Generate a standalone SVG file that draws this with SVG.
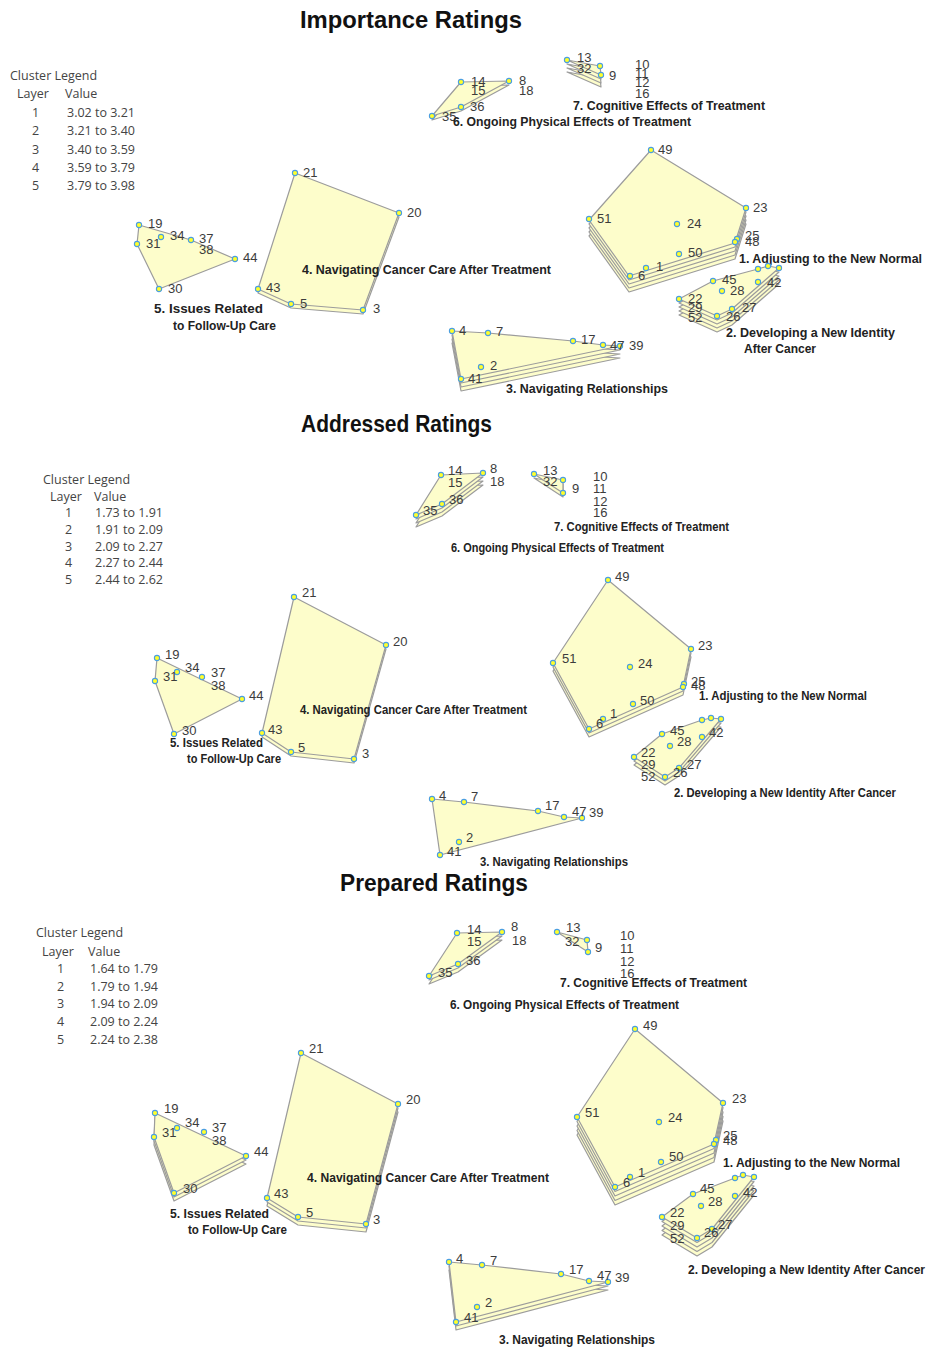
<svg xmlns="http://www.w3.org/2000/svg" width="930" height="1349" viewBox="0 0 930 1349">
<style>
  .bg{fill:#ffffff}
  .ttl{font-family:"Liberation Sans",Arial,sans-serif;font-weight:bold;font-size:24px;fill:#111}
  .lg{font-family:"Open Sans","Liberation Sans",sans-serif;font-size:12.5px;fill:#444}
  .num{font-family:"Liberation Sans",Arial,sans-serif;font-size:13px;fill:#3c3c3c}
  .cl{font-family:"Liberation Sans",Arial,sans-serif;font-weight:bold;font-size:12px;fill:#222}
  .ly{fill:#fdfdcb;stroke:#9c9c9c;stroke-width:1.2;stroke-linejoin:round}
  .pt{fill:#ffff2a;stroke:#4a9ee0;stroke-width:1.1}
</style>
<defs>
  <polygon id="p1c1" points="651,150 746,208 735,243 629,276 589,220"/>
  <polygon id="p1c2" points="679,299 713,281 758,269 768,266 779,268 732,309 717,316"/>
  <polygon id="p1c3" points="452,331 488,333 573,341 603,345 620,346 461,379"/>
  <polygon id="p1c4" points="295,173 399,213 363,310 291,304 258,289"/>
  <polygon id="p1c5" points="139,225 191,240 235,259 159,289 137,244"/>
  <polygon id="p1c6" points="432,116 461,82 509,81 461,107"/>
  <polygon id="p1c7" points="567,60 600,66 601,75"/>

  <polygon id="p2c1" points="608,580 691,649 683,687 589,729 553,663"/>
  <polygon id="p2c2" points="634,757 662,734 702,720 711,718 721,719 679,768 665,777"/>
  <polygon id="p2c3" points="432,799 464,802 538,811 564,817 582,818 440,855"/>
  <polygon id="p2c4" points="294,597 386,645 354,759 291,752 262,733"/>
  <polygon id="p2c5" points="157,658 242,699 174,734 155,681"/>
  <polygon id="p2c6" points="416,515 441,475 483,473 442,504"/>
  <polygon id="p2c7" points="534,474 563,480 563,493"/>

  <polygon id="p3c1" points="635,1029 723,1103 714,1144 615,1187 577,1117"/>
  <polygon id="p3c2" points="662,1217 693,1194 735,1178 743,1175 754,1177 712,1229 697,1238"/>
  <polygon id="p3c3" points="449,1262 482,1265 561,1274 589,1281 608,1282 456,1322"/>
  <polygon id="p3c4" points="301,1053 398,1104 366,1224 298,1217 267,1198"/>
  <polygon id="p3c5" points="155,1113 246,1156 174,1193 154,1137"/>
  <polygon id="p3c6" points="429,976 457,933 502,932 458,964"/>
  <polygon id="p3c7" points="557,932 587,940 588,952"/>
</defs>
<rect class="bg" x="0" y="0" width="930" height="1349"/>

<!-- ================= PANEL 1: IMPORTANCE ================= -->
<g id="panel-importance">
  <text class="ttl" x="300" y="28" textLength="222" lengthAdjust="spacingAndGlyphs">Importance Ratings</text>
  <g id="legend-importance" class="lg">
    <text x="10" y="80">Cluster Legend</text>
    <text x="17" y="98">Layer</text><text x="65" y="98">Value</text>
    <text x="32" y="117">1</text><text x="67" y="117">3.02 to 3.21</text>
    <text x="32" y="135">2</text><text x="67" y="135">3.21 to 3.40</text>
    <text x="32" y="154">3</text><text x="67" y="154">3.40 to 3.59</text>
    <text x="32" y="172">4</text><text x="67" y="172">3.59 to 3.79</text>
    <text x="32" y="190">5</text><text x="67" y="190">3.79 to 3.98</text>
  </g>

  <g id="p1-cluster5">
    <use class="ly" href="#p1c5"/>
    <circle class="pt" cx="139" cy="225" r="2.6"/><circle class="pt" cx="137" cy="244" r="2.6"/>
    <circle class="pt" cx="161" cy="237" r="2.6"/><circle class="pt" cx="191" cy="240" r="2.6"/>
    <circle class="pt" cx="235" cy="259" r="2.6"/><circle class="pt" cx="159" cy="289" r="2.6"/>
    <g class="num">
      <text x="148" y="228">19</text><text x="146" y="248">31</text><text x="170" y="240">34</text>
      <text x="199" y="243">37</text><text x="199" y="254">38</text><text x="243" y="262">44</text>
      <text x="168" y="293">30</text>
    </g>
    <text class="cl" x="154" y="313" textLength="109" lengthAdjust="spacingAndGlyphs">5.  Issues Related</text>
    <text class="cl" x="173" y="330" textLength="103" lengthAdjust="spacingAndGlyphs">to Follow-Up Care</text>
  </g>

  <g id="p1-cluster4">
    <use class="ly" href="#p1c4" y="4"/>
    <use class="ly" href="#p1c4"/>
    <circle class="pt" cx="295" cy="173" r="2.6"/><circle class="pt" cx="399" cy="213" r="2.6"/>
    <circle class="pt" cx="363" cy="310" r="2.6"/><circle class="pt" cx="291" cy="304" r="2.6"/>
    <circle class="pt" cx="258" cy="289" r="2.6"/>
    <g class="num">
      <text x="303" y="177">21</text><text x="407" y="217">20</text><text x="373" y="313">3</text>
      <text x="300" y="308">5</text><text x="266" y="292">43</text>
    </g>
    <text class="cl" x="302" y="274" textLength="249" lengthAdjust="spacingAndGlyphs">4.  Navigating Cancer Care After Treatment</text>
  </g>

  <g id="p1-cluster6">
    <use class="ly" href="#p1c6" y="4"/>
    <use class="ly" href="#p1c6"/>
    <circle class="pt" cx="461" cy="82" r="2.6"/><circle class="pt" cx="509" cy="81" r="2.6"/>
    <circle class="pt" cx="461" cy="107" r="2.6"/><circle class="pt" cx="432" cy="116" r="2.6"/>
    <g class="num">
      <text x="471" y="86">14</text><text x="471" y="95">15</text><text x="519" y="85">8</text>
      <text x="519" y="95">18</text><text x="470" y="111">36</text><text x="442" y="121">35</text>
    </g>
    <text class="cl" x="453" y="126" textLength="238" lengthAdjust="spacingAndGlyphs">6.  Ongoing Physical Effects of Treatment</text>
  </g>

  <g id="p1-cluster7">
    <use class="ly" href="#p1c7" y="12"/>
    <use class="ly" href="#p1c7" y="8"/>
    <use class="ly" href="#p1c7" y="4"/>
    <use class="ly" href="#p1c7"/>
    <circle class="pt" cx="567" cy="60" r="2.6"/><circle class="pt" cx="600" cy="66" r="2.6"/>
    <circle class="pt" cx="601" cy="75" r="2.6"/>
    <g class="num">
      <text x="577" y="62">13</text><text x="577" y="73">32</text><text x="609" y="80">9</text>
      <text x="635" y="69">10</text><text x="635" y="78">11</text><text x="635" y="87">12</text><text x="635" y="98">16</text>
    </g>
    <text class="cl" x="573" y="110" textLength="192" lengthAdjust="spacingAndGlyphs">7.  Cognitive Effects of Treatment</text>
  </g>

  <g id="p1-cluster1">
    <use class="ly" href="#p1c1" y="16"/>
    <use class="ly" href="#p1c1" y="12"/>
    <use class="ly" href="#p1c1" y="8"/>
    <use class="ly" href="#p1c1" y="4"/>
    <use class="ly" href="#p1c1"/>
    <circle class="pt" cx="651" cy="150" r="2.6"/><circle class="pt" cx="746" cy="208" r="2.6"/>
    <circle class="pt" cx="737" cy="239" r="2.6"/><circle class="pt" cx="735" cy="242" r="2.6"/>
    <circle class="pt" cx="679" cy="254" r="2.6"/><circle class="pt" cx="646" cy="268" r="2.6"/>
    <circle class="pt" cx="630" cy="276" r="2.6"/><circle class="pt" cx="589" cy="219" r="2.6"/>
    <circle class="pt" cx="677" cy="224" r="2.6"/>
    <g class="num">
      <text x="658" y="154">49</text><text x="753" y="212">23</text><text x="745" y="240">25</text>
      <text x="745" y="246">48</text><text x="688" y="257">50</text><text x="656" y="271">1</text>
      <text x="638" y="280">6</text><text x="597" y="223">51</text><text x="687" y="228">24</text>
    </g>
    <text class="cl" x="739" y="263" textLength="183" lengthAdjust="spacingAndGlyphs">1.  Adjusting to the New Normal</text>
  </g>

  <g id="p1-cluster2">
    <use class="ly" href="#p1c2" y="16"/>
    <use class="ly" href="#p1c2" y="12"/>
    <use class="ly" href="#p1c2" y="8"/>
    <use class="ly" href="#p1c2" y="4"/>
    <use class="ly" href="#p1c2"/>
    <circle class="pt" cx="713" cy="281" r="2.6"/><circle class="pt" cx="722" cy="291" r="2.6"/>
    <circle class="pt" cx="679" cy="299" r="2.6"/><circle class="pt" cx="717" cy="316" r="2.6"/>
    <circle class="pt" cx="732" cy="309" r="2.6"/><circle class="pt" cx="758" cy="282" r="2.6"/>
    <circle class="pt" cx="758" cy="269" r="2.6"/><circle class="pt" cx="768" cy="266" r="2.6"/>
    <circle class="pt" cx="779" cy="268" r="2.6"/>
    <g class="num">
      <text x="722" y="284">45</text><text x="730" y="295">28</text><text x="767" y="287">42</text>
      <text x="688" y="303">22</text><text x="688" y="312">29</text><text x="688" y="322">52</text>
      <text x="742" y="312">27</text><text x="726" y="321">26</text>
    </g>
    <text class="cl" x="726" y="337" textLength="169" lengthAdjust="spacingAndGlyphs">2.  Developing a New Identity</text>
    <text class="cl" x="744" y="353" textLength="72" lengthAdjust="spacingAndGlyphs">After Cancer</text>
  </g>

  <g id="p1-cluster3">
    <use class="ly" href="#p1c3" y="12"/>
    <use class="ly" href="#p1c3" y="8"/>
    <use class="ly" href="#p1c3" y="4"/>
    <use class="ly" href="#p1c3"/>
    <circle class="pt" cx="452" cy="331" r="2.6"/><circle class="pt" cx="488" cy="333" r="2.6"/>
    <circle class="pt" cx="573" cy="341" r="2.6"/><circle class="pt" cx="603" cy="345" r="2.6"/>
    <circle class="pt" cx="620" cy="346" r="2.6"/><circle class="pt" cx="481" cy="367" r="2.6"/>
    <circle class="pt" cx="461" cy="379" r="2.6"/>
    <g class="num">
      <text x="459" y="335">4</text><text x="496" y="336">7</text><text x="581" y="344">17</text>
      <text x="610" y="350">47</text><text x="629" y="350">39</text><text x="490" y="370">2</text>
      <text x="468" y="383">41</text>
    </g>
    <text class="cl" x="506" y="393" textLength="162" lengthAdjust="spacingAndGlyphs">3.  Navigating Relationships</text>
  </g>
</g>

<!-- ================= PANEL 2: ADDRESSED ================= -->
<g id="panel-addressed">
  <text class="ttl" x="301" y="432" textLength="191" lengthAdjust="spacingAndGlyphs">Addressed Ratings</text>
  <g id="legend-addressed" class="lg">
    <text x="43" y="484">Cluster Legend</text>
    <text x="50" y="501">Layer</text><text x="94" y="501">Value</text>
    <text x="65" y="517">1</text><text x="95" y="517">1.73 to 1.91</text>
    <text x="65" y="534">2</text><text x="95" y="534">1.91 to 2.09</text>
    <text x="65" y="551">3</text><text x="95" y="551">2.09 to 2.27</text>
    <text x="65" y="567">4</text><text x="95" y="567">2.27 to 2.44</text>
    <text x="65" y="584">5</text><text x="95" y="584">2.44 to 2.62</text>
  </g>

  <g id="p2-cluster5">
    <use class="ly" href="#p2c5"/>
    <circle class="pt" cx="157" cy="658" r="2.6"/><circle class="pt" cx="155" cy="681" r="2.6"/>
    <circle class="pt" cx="177" cy="672" r="2.6"/><circle class="pt" cx="202" cy="677" r="2.6"/>
    <circle class="pt" cx="242" cy="699" r="2.6"/><circle class="pt" cx="174" cy="734" r="2.6"/>
    <g class="num">
      <text x="165" y="659">19</text><text x="163" y="681">31</text><text x="185" y="672">34</text>
      <text x="211" y="677">37</text><text x="211" y="690">38</text><text x="249" y="700">44</text>
      <text x="182" y="735">30</text>
    </g>
    <text class="cl" x="170" y="747" textLength="93" lengthAdjust="spacingAndGlyphs">5.  Issues Related</text>
    <text class="cl" x="187" y="763" textLength="94" lengthAdjust="spacingAndGlyphs">to Follow-Up Care</text>
  </g>

  <g id="p2-cluster4">
    <use class="ly" href="#p2c4" y="4"/>
    <use class="ly" href="#p2c4"/>
    <circle class="pt" cx="294" cy="597" r="2.6"/><circle class="pt" cx="386" cy="645" r="2.6"/>
    <circle class="pt" cx="354" cy="759" r="2.6"/><circle class="pt" cx="291" cy="752" r="2.6"/>
    <circle class="pt" cx="262" cy="733" r="2.6"/>
    <g class="num">
      <text x="302" y="597">21</text><text x="393" y="646">20</text><text x="362" y="758">3</text>
      <text x="298" y="752">5</text><text x="268" y="734">43</text>
    </g>
    <text class="cl" x="300" y="714" textLength="227" lengthAdjust="spacingAndGlyphs">4.  Navigating Cancer Care After Treatment</text>
  </g>

  <g id="p2-cluster6">
    <use class="ly" href="#p2c6" y="12"/>
    <use class="ly" href="#p2c6" y="8"/>
    <use class="ly" href="#p2c6" y="4"/>
    <use class="ly" href="#p2c6"/>
    <circle class="pt" cx="441" cy="475" r="2.6"/><circle class="pt" cx="483" cy="473" r="2.6"/>
    <circle class="pt" cx="442" cy="504" r="2.6"/><circle class="pt" cx="416" cy="515" r="2.6"/>
    <g class="num">
      <text x="448" y="475">14</text><text x="448" y="487">15</text><text x="490" y="473">8</text>
      <text x="490" y="486">18</text><text x="449" y="504">36</text><text x="423" y="515">35</text>
    </g>
    <text class="cl" x="451" y="552" textLength="213" lengthAdjust="spacingAndGlyphs">6.  Ongoing Physical Effects of Treatment</text>
  </g>

  <g id="p2-cluster7">
    <use class="ly" href="#p2c7" y="4"/>
    <use class="ly" href="#p2c7"/>
    <circle class="pt" cx="534" cy="474" r="2.6"/><circle class="pt" cx="563" cy="480" r="2.6"/>
    <circle class="pt" cx="563" cy="493" r="2.6"/>
    <g class="num">
      <text x="543" y="475">13</text><text x="543" y="486">32</text><text x="572" y="493">9</text>
      <text x="593" y="481">10</text><text x="593" y="493">11</text><text x="593" y="506">12</text><text x="593" y="517">16</text>
    </g>
    <text class="cl" x="554" y="531" textLength="175" lengthAdjust="spacingAndGlyphs">7.  Cognitive Effects of Treatment</text>
  </g>

  <g id="p2-cluster1">
    <use class="ly" href="#p2c1" y="8"/>
    <use class="ly" href="#p2c1" y="4"/>
    <use class="ly" href="#p2c1"/>
    <circle class="pt" cx="608" cy="580" r="2.6"/><circle class="pt" cx="691" cy="649" r="2.6"/>
    <circle class="pt" cx="684" cy="684" r="2.6"/><circle class="pt" cx="683" cy="687" r="2.6"/>
    <circle class="pt" cx="633" cy="704" r="2.6"/><circle class="pt" cx="603" cy="719" r="2.6"/>
    <circle class="pt" cx="589" cy="729" r="2.6"/><circle class="pt" cx="553" cy="663" r="2.6"/>
    <circle class="pt" cx="630" cy="667" r="2.6"/>
    <g class="num">
      <text x="615" y="581">49</text><text x="698" y="650">23</text><text x="691" y="686">25</text>
      <text x="691" y="690">48</text><text x="640" y="705">50</text><text x="610" y="718">1</text>
      <text x="596" y="728">6</text><text x="562" y="663">51</text><text x="638" y="668">24</text>
    </g>
    <text class="cl" x="699" y="700" textLength="168" lengthAdjust="spacingAndGlyphs">1.  Adjusting to the New Normal</text>
  </g>

  <g id="p2-cluster2">
    <use class="ly" href="#p2c2" y="8"/>
    <use class="ly" href="#p2c2" y="4"/>
    <use class="ly" href="#p2c2"/>
    <circle class="pt" cx="662" cy="734" r="2.6"/><circle class="pt" cx="670" cy="746" r="2.6"/>
    <circle class="pt" cx="634" cy="757" r="2.6"/><circle class="pt" cx="665" cy="777" r="2.6"/>
    <circle class="pt" cx="679" cy="768" r="2.6"/><circle class="pt" cx="702" cy="737" r="2.6"/>
    <circle class="pt" cx="702" cy="720" r="2.6"/><circle class="pt" cx="711" cy="718" r="2.6"/>
    <circle class="pt" cx="721" cy="719" r="2.6"/>
    <g class="num">
      <text x="670" y="735">45</text><text x="677" y="746">28</text><text x="709" y="737">42</text>
      <text x="641" y="757">22</text><text x="641" y="769">29</text><text x="641" y="781">52</text>
      <text x="687" y="769">27</text><text x="673" y="777">26</text>
    </g>
    <text class="cl" x="674" y="797" textLength="222" lengthAdjust="spacingAndGlyphs">2.  Developing a New Identity After Cancer</text>
  </g>

  <g id="p2-cluster3">
    <use class="ly" href="#p2c3"/>
    <circle class="pt" cx="432" cy="799" r="2.6"/><circle class="pt" cx="464" cy="802" r="2.6"/>
    <circle class="pt" cx="538" cy="811" r="2.6"/><circle class="pt" cx="564" cy="817" r="2.6"/>
    <circle class="pt" cx="582" cy="818" r="2.6"/><circle class="pt" cx="459" cy="842" r="2.6"/>
    <circle class="pt" cx="440" cy="855" r="2.6"/>
    <g class="num">
      <text x="439" y="800">4</text><text x="471" y="801">7</text><text x="545" y="810">17</text>
      <text x="572" y="816">47</text><text x="589" y="817">39</text><text x="466" y="842">2</text>
      <text x="447" y="856">41</text>
    </g>
    <text class="cl" x="480" y="866" textLength="148" lengthAdjust="spacingAndGlyphs">3.  Navigating Relationships</text>
  </g>
</g>

<!-- ================= PANEL 3: PREPARED ================= -->
<g id="panel-prepared">
  <text class="ttl" x="340" y="891" textLength="188" lengthAdjust="spacingAndGlyphs">Prepared Ratings</text>
  <g id="legend-prepared" class="lg">
    <text x="36" y="937">Cluster Legend</text>
    <text x="42" y="956">Layer</text><text x="88" y="956">Value</text>
    <text x="57" y="973">1</text><text x="90" y="973">1.64 to 1.79</text>
    <text x="57" y="991">2</text><text x="90" y="991">1.79 to 1.94</text>
    <text x="57" y="1008">3</text><text x="90" y="1008">1.94 to 2.09</text>
    <text x="57" y="1026">4</text><text x="90" y="1026">2.09 to 2.24</text>
    <text x="57" y="1044">5</text><text x="90" y="1044">2.24 to 2.38</text>
  </g>

  <g id="p3-cluster5">
    <use class="ly" href="#p3c5" y="8"/>
    <use class="ly" href="#p3c5" y="4"/>
    <use class="ly" href="#p3c5"/>
    <circle class="pt" cx="155" cy="1113" r="2.6"/><circle class="pt" cx="154" cy="1137" r="2.6"/>
    <circle class="pt" cx="177" cy="1128" r="2.6"/><circle class="pt" cx="204" cy="1132" r="2.6"/>
    <circle class="pt" cx="246" cy="1156" r="2.6"/><circle class="pt" cx="174" cy="1193" r="2.6"/>
    <g class="num">
      <text x="164" y="1113">19</text><text x="162" y="1137">31</text><text x="185" y="1127">34</text>
      <text x="212" y="1132">37</text><text x="212" y="1145">38</text><text x="254" y="1156">44</text>
      <text x="183" y="1193">30</text>
    </g>
    <text class="cl" x="170" y="1218" textLength="99" lengthAdjust="spacingAndGlyphs">5.  Issues Related</text>
    <text class="cl" x="188" y="1234" textLength="99" lengthAdjust="spacingAndGlyphs">to Follow-Up Care</text>
  </g>

  <g id="p3-cluster4">
    <use class="ly" href="#p3c4" y="8"/>
    <use class="ly" href="#p3c4" y="4"/>
    <use class="ly" href="#p3c4"/>
    <circle class="pt" cx="301" cy="1053" r="2.6"/><circle class="pt" cx="398" cy="1104" r="2.6"/>
    <circle class="pt" cx="366" cy="1224" r="2.6"/><circle class="pt" cx="298" cy="1217" r="2.6"/>
    <circle class="pt" cx="267" cy="1198" r="2.6"/>
    <g class="num">
      <text x="309" y="1053">21</text><text x="406" y="1104">20</text><text x="373" y="1224">3</text>
      <text x="306" y="1217">5</text><text x="274" y="1198">43</text>
    </g>
    <text class="cl" x="307" y="1182" textLength="242" lengthAdjust="spacingAndGlyphs">4.  Navigating Cancer Care After Treatment</text>
  </g>

  <g id="p3-cluster6">
    <use class="ly" href="#p3c6" y="8"/>
    <use class="ly" href="#p3c6" y="4"/>
    <use class="ly" href="#p3c6"/>
    <circle class="pt" cx="457" cy="933" r="2.6"/><circle class="pt" cx="502" cy="932" r="2.6"/>
    <circle class="pt" cx="458" cy="964" r="2.6"/><circle class="pt" cx="429" cy="976" r="2.6"/>
    <g class="num">
      <text x="467" y="934">14</text><text x="467" y="946">15</text><text x="511" y="931">8</text>
      <text x="512" y="945">18</text><text x="466" y="965">36</text><text x="438" y="977">35</text>
    </g>
    <text class="cl" x="450" y="1009" textLength="229" lengthAdjust="spacingAndGlyphs">6.  Ongoing Physical Effects of Treatment</text>
  </g>

  <g id="p3-cluster7">
    <use class="ly" href="#p3c7"/>
    <circle class="pt" cx="557" cy="932" r="2.6"/><circle class="pt" cx="587" cy="940" r="2.6"/>
    <circle class="pt" cx="588" cy="952" r="2.6"/>
    <g class="num">
      <text x="566" y="932">13</text><text x="565" y="946">32</text><text x="595" y="952">9</text>
      <text x="620" y="940">10</text><text x="620" y="953">11</text><text x="620" y="966">12</text><text x="620" y="978">16</text>
    </g>
    <text class="cl" x="560" y="987" textLength="187" lengthAdjust="spacingAndGlyphs">7.  Cognitive Effects of Treatment</text>
  </g>

  <g id="p3-cluster1">
    <use class="ly" href="#p3c1" y="18"/>
    <use class="ly" href="#p3c1" y="13.5"/>
    <use class="ly" href="#p3c1" y="9"/>
    <use class="ly" href="#p3c1" y="4.5"/>
    <use class="ly" href="#p3c1"/>
    <circle class="pt" cx="635" cy="1029" r="2.6"/><circle class="pt" cx="723" cy="1103" r="2.6"/>
    <circle class="pt" cx="716" cy="1140" r="2.6"/><circle class="pt" cx="714" cy="1144" r="2.6"/>
    <circle class="pt" cx="661" cy="1162" r="2.6"/><circle class="pt" cx="630" cy="1177" r="2.6"/>
    <circle class="pt" cx="615" cy="1187" r="2.6"/><circle class="pt" cx="577" cy="1117" r="2.6"/>
    <circle class="pt" cx="659" cy="1122" r="2.6"/>
    <g class="num">
      <text x="643" y="1030">49</text><text x="732" y="1103">23</text><text x="723" y="1140">25</text>
      <text x="723" y="1145">48</text><text x="669" y="1161">50</text><text x="638" y="1177">1</text>
      <text x="623" y="1187">6</text><text x="585" y="1117">51</text><text x="668" y="1122">24</text>
    </g>
    <text class="cl" x="723" y="1167" textLength="177" lengthAdjust="spacingAndGlyphs">1.  Adjusting to the New Normal</text>
  </g>

  <g id="p3-cluster2">
    <use class="ly" href="#p3c2" y="18"/>
    <use class="ly" href="#p3c2" y="13.5"/>
    <use class="ly" href="#p3c2" y="9"/>
    <use class="ly" href="#p3c2" y="4.5"/>
    <use class="ly" href="#p3c2"/>
    <circle class="pt" cx="693" cy="1194" r="2.6"/><circle class="pt" cx="701" cy="1206" r="2.6"/>
    <circle class="pt" cx="662" cy="1217" r="2.6"/><circle class="pt" cx="697" cy="1238" r="2.6"/>
    <circle class="pt" cx="712" cy="1229" r="2.6"/><circle class="pt" cx="735" cy="1196" r="2.6"/>
    <circle class="pt" cx="735" cy="1178" r="2.6"/><circle class="pt" cx="743" cy="1175" r="2.6"/>
    <circle class="pt" cx="754" cy="1177" r="2.6"/>
    <g class="num">
      <text x="700" y="1193">45</text><text x="708" y="1206">28</text><text x="743" y="1197">42</text>
      <text x="670" y="1217">22</text><text x="670" y="1230">29</text><text x="670" y="1243">52</text>
      <text x="718" y="1229">27</text><text x="704" y="1237">26</text>
    </g>
    <text class="cl" x="688" y="1274" textLength="237" lengthAdjust="spacingAndGlyphs">2.  Developing a New Identity After Cancer</text>
  </g>

  <g id="p3-cluster3">
    <use class="ly" href="#p3c3" y="8"/>
    <use class="ly" href="#p3c3" y="4"/>
    <use class="ly" href="#p3c3"/>
    <circle class="pt" cx="449" cy="1262" r="2.6"/><circle class="pt" cx="482" cy="1265" r="2.6"/>
    <circle class="pt" cx="561" cy="1274" r="2.6"/><circle class="pt" cx="589" cy="1281" r="2.6"/>
    <circle class="pt" cx="608" cy="1282" r="2.6"/><circle class="pt" cx="477" cy="1307" r="2.6"/>
    <circle class="pt" cx="456" cy="1322" r="2.6"/>
    <g class="num">
      <text x="456" y="1263">4</text><text x="490" y="1265">7</text><text x="569" y="1274">17</text>
      <text x="597" y="1280">47</text><text x="615" y="1282">39</text><text x="485" y="1307">2</text>
      <text x="464" y="1322">41</text>
    </g>
    <text class="cl" x="499" y="1344" textLength="156" lengthAdjust="spacingAndGlyphs">3.  Navigating Relationships</text>
  </g>
</g>
</svg>
